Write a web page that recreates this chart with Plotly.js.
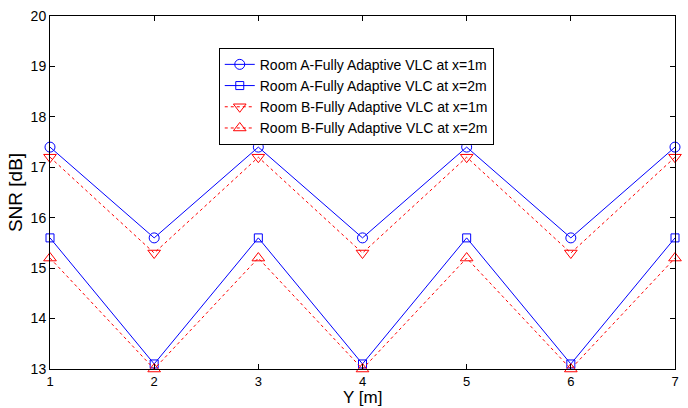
<!DOCTYPE html>
<html>
<head>
<meta charset="utf-8">
<script src="https://cdn.plot.ly/plotly-3.0.1.min.js"></script>
<style>html,body{margin:0;padding:0;background:#fff;}#chart{width:688px;height:408px;}</style>
</head>
<body>
<div id="chart"></div>
<script>
const yPos = [1, 2, 3, 4, 5, 6, 7];
const roomA_x1 = [17.4, 15.6, 17.4, 15.6, 17.4, 15.6, 17.4];
const roomA_x2 = [15.6, 13.1, 15.6, 13.1, 15.6, 13.1, 15.6];
const roomB_x1 = [17.2, 15.3, 17.2, 15.3, 17.2, 15.3, 17.2];
const roomB_x2 = [15.2, 13.0, 15.2, 13.0, 15.2, 13.0, 15.2];
const names = [
  'Room A-Fully Adaptive VLC at x=1m',
  'Room A-Fully Adaptive VLC at x=2m',
  'Room B-Fully Adaptive VLC at x=1m',
  'Room B-Fully Adaptive VLC at x=2m'
];
const xTitle = 'Y [m]';
const yTitle = 'SNR [dB]';
const blue = '#0000ff', red = '#ff0000';
const FONT = 'Liberation Sans, Arial, sans-serif';
function tr(y, name, color, dash, symbol, size) {
  return {
    x: yPos, y: y, name: name, type: 'scatter', mode: 'lines+markers', cliponaxis: false,
    line: {color: color, width: 1, dash: dash},
    marker: {symbol: symbol, size: size, color: color, line: {color: color, width: 1}}
  };
}
const data = [
  tr(roomA_x1, names[0], blue, 'solid', 'circle-open', 10),
  tr(roomA_x2, names[1], blue, 'solid', 'square-open', 8),
  tr(roomB_x1, names[2], red, 'dot', 'triangle-down-open', 11),
  tr(roomB_x2, names[3], red, 'dot', 'triangle-up-open', 11)
];
const axisCommon = {
  showgrid: false, zeroline: false, showline: true, linecolor: '#000', linewidth: 1,
  mirror: 'ticks', ticks: 'inside', ticklen: 5, tickcolor: '#000', tickwidth: 1,
  tickfont: {family: FONT, size: 14, color: '#000'}
};
const layout = {
  width: 688, height: 408,
  margin: {l: 50, r: 13, t: 16, b: 39},
  paper_bgcolor: '#fff', plot_bgcolor: '#fff',
  showlegend: true,
  legend: {
    x: 0.27, y: 0.91, xanchor: 'left', yanchor: 'top',
    bgcolor: '#fff', bordercolor: '#000', borderwidth: 1,
    font: {family: FONT, size: 14, color: '#000'},
    tracegroupgap: 0, itemwidth: 30
  },
  xaxis: Object.assign({}, axisCommon, {
    range: [1, 7], tickvals: [1, 2, 3, 4, 5, 6, 7],
    tickfont: {family: FONT, size: 13, color: '#000'}
  }),
  yaxis: Object.assign({}, axisCommon, {
    range: [13, 20], tickvals: [13, 14, 15, 16, 17, 18, 19, 20],
    title: {text: yTitle, font: {family: FONT, size: 19, color: '#000'}, standoff: 2}
  }),
  annotations: [{
    text: xTitle, xref: 'paper', yref: 'paper', x: 0.5, y: -0.1105,
    xanchor: 'center', yanchor: 'bottom', showarrow: false, borderpad: 0,
    font: {family: FONT, size: 17, color: '#000'}
  }]
};
Plotly.newPlot('chart', data, layout, {displayModeBar: false, staticPlot: true});
</script>
</body>
</html>
